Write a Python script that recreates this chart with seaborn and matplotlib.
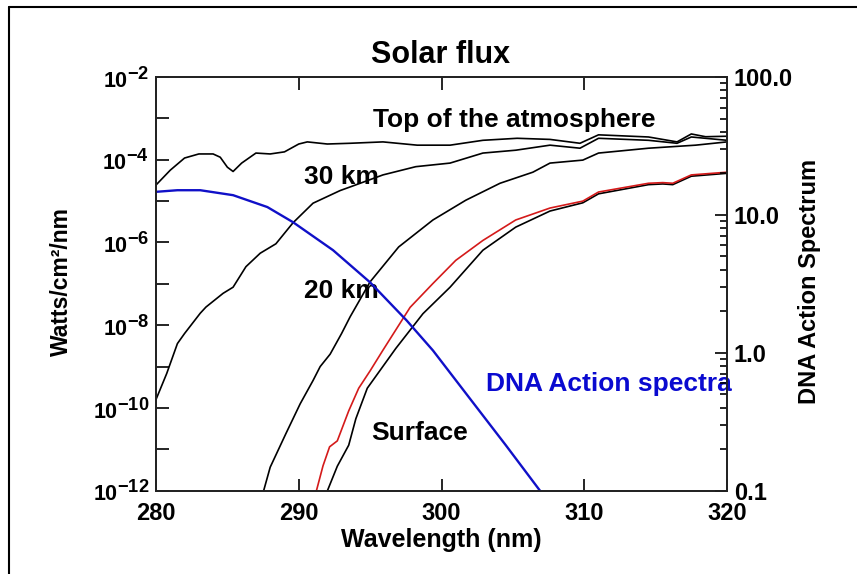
import numpy as np
import pandas as pd
import matplotlib
matplotlib.use("Agg")
import matplotlib.pyplot as plt
import matplotlib.ticker as mticker
import matplotlib._mathtext as _mt
from matplotlib.lines import Line2D
import seaborn as sns

# ---------------- data ----------------
toa_nm = [280, 281, 282, 283, 284, 284.5, 285, 285.4, 286, 287, 288, 289, 290, 290.6,
          292, 293.6, 295.9, 298.3, 300.6, 302.9, 305.3, 307.6, 309.7, 311, 314.5,
          316.5, 317.5, 318.5, 320]
toa_flux = [2.45e-5, 5.6e-5, 1.1e-4, 1.38e-4, 1.38e-4, 1.15e-4, 6.6e-5, 5.2e-5, 8.3e-5,
            1.45e-4, 1.38e-4, 1.55e-4, 2.4e-4, 2.7e-4, 2.4e-4, 2.5e-4, 2.7e-4, 2.25e-4,
            2.25e-4, 2.95e-4, 3.3e-4, 3.1e-4, 2.5e-4, 4.0e-4, 3.55e-4, 2.7e-4, 4.2e-4,
            3.6e-4, 3.7e-4]

km30_nm = [280, 280.75, 281.5, 282, 283.1, 283.5, 284.7, 285.4, 286.3, 287.3, 288.4,
           289.6, 291, 292.9, 293.6, 295.9, 298.2, 300.6, 302.9, 305.2, 307.6, 309.7,
           311, 314.5, 316.5, 317.5, 320]
km30_flux = [1.6e-10, 6.8e-10, 3.6e-9, 6.3e-9, 1.95e-8, 2.75e-8, 5.9e-8, 8.3e-8, 2.6e-7,
             5.5e-7, 9.3e-7, 3.0e-6, 8.9e-6, 1.8e-5, 2.2e-5, 4.3e-5, 6.8e-5, 8.3e-5,
             1.45e-4, 1.7e-4, 2.25e-4, 1.9e-4, 3.3e-4, 2.95e-4, 2.5e-4, 3.55e-4, 2.95e-4]

km20_nm = [287.5, 288, 289.1, 290.1, 291, 291.5, 292.2, 293.0, 293.6, 295, 297, 299.4,
           301.7, 304.1, 306.4, 307.6, 309.9, 311, 314.5, 317.8, 320]
km20_flux = [8.9e-13, 3.7e-12, 2.4e-11, 1.26e-10, 4.6e-10, 1.0e-9, 2.0e-9, 6.3e-9,
             1.6e-8, 1.12e-7, 7.8e-7, 3.5e-6, 1.05e-5, 2.7e-5, 5.0e-5, 8.3e-5, 9.8e-5,
             1.45e-4, 1.9e-4, 2.25e-4, 2.7e-4]

red_nm = [291.2, 291.7, 292.16, 292.7, 293.5, 294.2, 295.0, 295.9, 297.8, 299.4, 301,
          302.9, 305.2, 307.6, 309.9, 311, 314.5, 315.5, 316.2, 317.5, 320]
red_flux = [8.9e-13, 4.0e-12, 1.15e-11, 1.6e-11, 8.5e-11, 3.0e-10, 7.9e-10, 2.5e-9,
            2.7e-8, 1.02e-7, 3.7e-7, 1.12e-6, 3.5e-6, 6.8e-6, 1.0e-5, 1.66e-5, 2.7e-5,
            2.8e-5, 2.7e-5, 4.3e-5, 5.0e-5]

sfc_nm = [291.95, 292.7, 293.5, 294.0, 294.8, 296.8, 298.7, 300.6, 302.9, 305.2, 307.6,
          309.9, 311, 314.5, 315.5, 316.2, 317.5, 320]
sfc_flux = [8.9e-13, 3.9e-12, 1.26e-11, 5.5e-11, 3.0e-10, 2.75e-9, 1.9e-8, 8.3e-8,
            6.5e-7, 2.35e-6, 5.75e-6, 9.1e-6, 1.5e-5, 2.5e-5, 2.6e-5, 2.5e-5, 4.0e-5,
            4.7e-5]

dna_nm = [280, 281.5, 283.1, 285.4, 287.8, 289.6, 292.4, 295.0, 297.55, 299.4, 302.1,
          304.5, 306.9, 308]
dna_action = [14.7, 15.1, 15.1, 13.9, 11.4, 8.85, 5.55, 3.24, 1.72, 1.04, 0.45, 0.214,
              0.1, 0.071]

x_ticks = [280, 290, 300, 310, 320]
left_major = [1e-12, 1e-10, 1e-8, 1e-6, 1e-4, 1e-2]
left_minor = [1e-11, 1e-9, 1e-7, 1e-5, 1e-3]
right_major = [0.1, 1.0, 10.0, 100.0]

# ---------------- style ----------------
sns.set_style("ticks")
plt.rcParams["font.family"] = ["Liberation Sans", "DejaVu Sans"]
plt.rcParams["font.weight"] = "bold"
plt.rcParams["text.color"] = "black"
plt.rcParams["axes.labelcolor"] = "black"
plt.rcParams["xtick.color"] = "black"
plt.rcParams["ytick.color"] = "black"
plt.rcParams["mathtext.fontset"] = "custom"
plt.rcParams["mathtext.rm"] = "Liberation Sans:bold"
plt.rcParams["mathtext.it"] = "Liberation Sans:bold"
plt.rcParams["mathtext.bf"] = "Liberation Sans:bold"
plt.rcParams["mathtext.default"] = "rm"
# larger superscripts, like the original IDL labels
_mt.SHRINK_FACTOR = 0.85

fig = plt.figure(figsize=(8.57, 5.74), dpi=100)
ax = fig.add_axes([156 / 857, 1 - 490.7 / 574, (727 - 156) / 857, (490.7 - 77) / 574])
ax2 = ax.twinx()

ax.set_yscale("log")
ax2.set_yscale("log")

blk = "#000000"
def draw(axis, xs, ys, color, lw):
    df = pd.DataFrame({"x": xs, "y": ys})
    sns.lineplot(data=df, x="x", y="y", ax=axis, color=color, lw=lw,
                 estimator=None, sort=False)

draw(ax, toa_nm, toa_flux, blk, 1.2)
draw(ax, km30_nm, km30_flux, blk, 1.2)
draw(ax, km20_nm, km20_flux, blk, 1.2)
draw(ax, sfc_nm, sfc_flux, blk, 1.2)
draw(ax, red_nm, red_flux, "#d41a1a", 1.2)
draw(ax2, dna_nm, dna_action, "#1010c8", 1.7)

ax.set_xlim(280, 320)
ax.set_ylim(1e-12, 1e-2)
ax2.set_ylim(0.1, 100)
ax.set_xlabel("")
ax2.set_xlabel("")

# ticks
ax.xaxis.set_major_locator(mticker.FixedLocator(x_ticks))
ax.xaxis.set_minor_locator(mticker.NullLocator())
ax.yaxis.set_major_locator(mticker.FixedLocator(left_major))
ax.yaxis.set_minor_locator(mticker.FixedLocator(left_minor))
ax.yaxis.set_major_formatter(mticker.FuncFormatter(
    lambda v, p: r"$10^{%d}$" % int(round(np.log10(v)))))
ax.yaxis.set_minor_formatter(mticker.NullFormatter())

ax2.yaxis.set_major_locator(mticker.FixedLocator(right_major))
ax2.yaxis.set_minor_locator(mticker.LogLocator(base=10, subs=np.arange(2, 10)))
ax2.yaxis.set_major_formatter(mticker.FuncFormatter(lambda v, p: "%.1f" % v))
ax2.yaxis.set_minor_formatter(mticker.NullFormatter())

ax.tick_params(axis="x", which="major", direction="in", length=9, width=1.2,
               top=True, labeltop=False, labelsize=17, pad=8, colors=blk)
ax.tick_params(axis="y", which="major", direction="in", length=9, width=1.2,
               right=False, labelsize=15.5, pad=5, colors=blk)
ax.tick_params(axis="y", which="minor", direction="in", length=9, width=1.2,
               right=False)
ax2.tick_params(axis="y", which="major", direction="in", length=9, width=1.2,
                labelsize=17, pad=5, colors=blk)
ax2.tick_params(axis="y", which="minor", direction="in", length=5, width=1.2)

for a in (ax, ax2):
    for s in a.spines.values():
        s.set_linewidth(1.3)
        s.set_color("#222222")

# labels
ax.set_xlabel("Wavelength (nm)", fontsize=18, fontweight="bold")
ax.xaxis.set_label_coords(0.499, -0.09)
ax.set_ylabel("Watts/cm²/nm", fontsize=16.5, fontweight="bold")
ax.yaxis.label.set_va("center")
ax.yaxis.set_label_coords(-0.166, 0.505)
ax2.set_ylabel("DNA Action Spectrum", fontsize=17, fontweight="bold")
ax2.yaxis.label.set_va("center")
ax2.yaxis.set_label_coords(1.145, 0.505)

fig.text(441 / 857, 1 - 55 / 574, "Solar flux", fontsize=22, fontweight="bold",
         ha="center", va="center")

ax.text(305.1, 9.1e-4, "Top of the atmosphere", fontsize=19, fontweight="bold",
        ha="center", va="center")
ax.text(290.4, 3.8e-5, "30 km", fontsize=19, fontweight="bold", ha="left", va="center")
ax.text(290.4, 6.6e-8, "20 km", fontsize=19, fontweight="bold", ha="left", va="center")
ax.text(295.1, 2.5e-11, "Surface", fontsize=19, fontweight="bold", ha="left", va="center")
ax.text(303.15, 3.9e-10, "DNA Action spectra", fontsize=19, fontweight="bold",
        color="#0a0ad0", ha="left", va="center", clip_on=False)

# outer frame (left and top edges of the original image)
fig.add_artist(Line2D([9 / 857, 9 / 857], [0, 1 - 7 / 574], transform=fig.transFigure,
                      color="black", lw=1.5))
fig.add_artist(Line2D([9 / 857, 1], [1 - 7 / 574, 1 - 7 / 574], transform=fig.transFigure,
                      color="black", lw=1.5))

fig.savefig("out.png", dpi=100)
